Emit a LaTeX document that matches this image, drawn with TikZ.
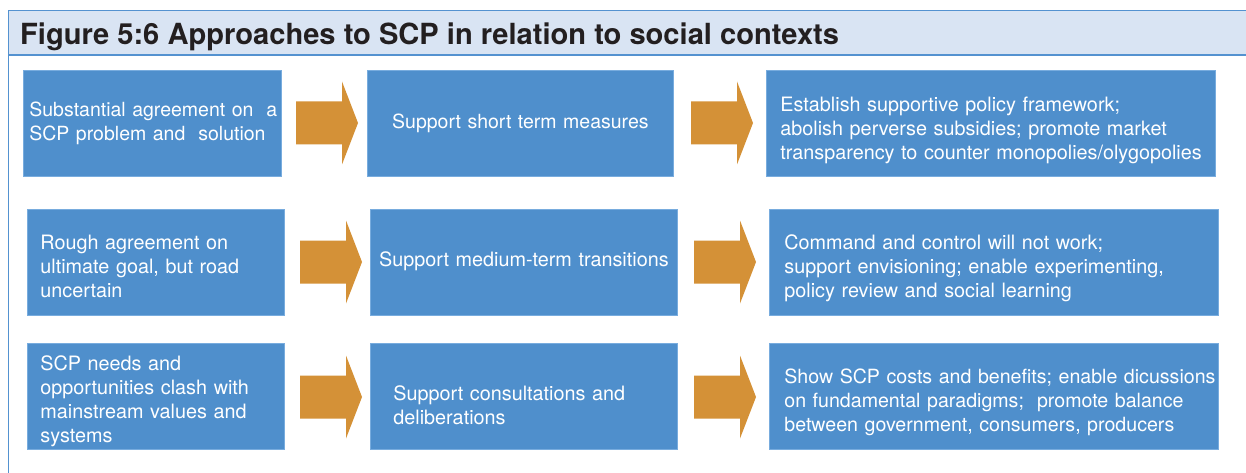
\documentclass[tikz,border=0pt]{standalone}
\usepackage{fontspec}
\setmainfont{TeX Gyre Heros}
\definecolor{boxblue}{RGB}{79,143,204}
\definecolor{boxedge}{RGB}{120,172,222}
\definecolor{arrorange}{RGB}{212,145,55}
\definecolor{titlefill}{RGB}{217,228,243}
\definecolor{titleedge}{RGB}{84,146,208}
\definecolor{titletext}{RGB}{35,31,32}
\newcommand{\mylines}[2][0pt]{\raisebox{-#1}[\height][\depth]{\begin{tabular}{@{}l@{}}#2\end{tabular}}}
\newcommand{\blockarrow}[2]{\fill[arrorange] (#1,#2) ++(0,-21.5) -- ++(46,0) -- ++(0,-20) -- ++(16,41.5) -- ++(-16,41.5) -- ++(0,-20) -- ++(-46,0) -- cycle;}
\begin{document}
\begin{tikzpicture}[x=1pt,y=-1pt,
  box/.style={fill=boxblue, draw=boxedge, line width=0.8pt, text=white,
    font=\fontsize{19.8}{23.9}\selectfont, anchor=north west, inner ysep=0pt,
    minimum height=106pt},
  smallfont/.style={font=\fontsize{19.5}{23.5}\selectfont},
  boxl/.style={box, align=left},
  boxc/.style={box, align=center}]
\useasboundingbox (0,0) rectangle (1246,473);
% title bar and frame
\fill[white] (0,0) rectangle (1246,473);
\draw[titleedge, line width=1.6pt, fill=titlefill] (8.5,10.5) rectangle (1260,55);
\draw[titleedge, line width=1.6pt] (8.5,55) -- (8.5,480);
\node[anchor=base west, inner sep=0pt, text=titletext, font=\fontsize{29.1}{32}\selectfont\bfseries] (title) at (20,45) {Figure 5:6 Approaches to SCP in relation to social contexts};
% row 1
\node[boxl, smallfont, minimum width=258pt, inner xsep=6pt, text width=246pt] (r1a) at (23,70)
  {\mylines[0.5pt]{Substantial agreement on~ a\\SCP problem and~ solution}};
\node[boxc, smallfont, minimum width=306pt, text width=290pt] (r1b) at (367,70)
  {Support short term measures};
\node[boxl, minimum width=449pt, inner xsep=14pt, text width=421pt] (r1c) at (766,70)
  {\mylines[7pt]{Establish supportive policy framework;\\abolish perverse subsidies; promote market\\transparency to counter monopolies/olygopolies}};
% row 2
\node[boxl, minimum width=257pt, inner xsep=13pt, text width=231pt] (r2a) at (27,209)
  {\mylines[6.5pt]{Rough agreement on\\ultimate goal, but road\\uncertain}};
\node[boxc, minimum width=307pt, text width=301pt, inner xsep=3pt] (r2b) at (370,209)
  {\mylines[-1pt]{Support medium-term transitions}};
\node[boxl, minimum width=449pt, inner xsep=15pt, text width=419pt] (r2c) at (769,209)
  {\mylines[6.5pt]{Command and control will not work;\\support envisioning; enable experimenting,\\policy review and social learning}};
% row 3
\node[boxl, minimum width=257pt, inner xsep=13pt, text width=231pt] (r3a) at (27,343)
  {\mylines[5.5pt]{SCP needs and\\opportunities clash with\\mainstream values and\\systems}};
\node[boxl, minimum width=307pt, inner xsep=23pt, text width=261pt] (r3b) at (370,343)
  {\mylines[11pt]{Support consultations and\\deliberations}};
\node[boxl, font=\fontsize{19.6}{23.9}\selectfont, minimum width=449pt, inner xsep=15pt, text width=419pt] (r3c) at (769,343)
  {\mylines[6pt]{Show SCP costs and benefits; enable dicussions\\on fundamental paradigms;~ promote balance\\between government, consumers, producers}};
% arrows
\blockarrow{296}{123}
\blockarrow{691}{123}
\blockarrow{300}{262}
\blockarrow{694}{262}
\blockarrow{300}{397}
\blockarrow{694}{397}
\end{tikzpicture}
\end{document}
